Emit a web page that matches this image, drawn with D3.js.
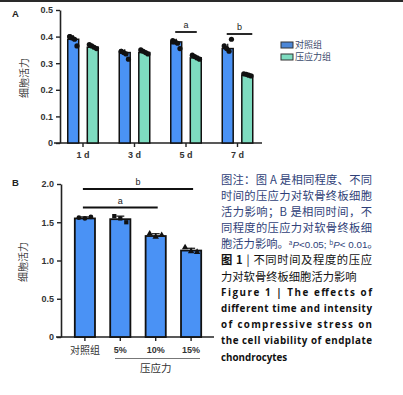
<!DOCTYPE html>
<html>
<head>
<meta charset="utf-8">
<script src="https://cdn.jsdelivr.net/npm/d3@7"></script>
<style>
  body { margin: 0; background: #fff; }
  svg { display: block; }
</style>
</head>
<body>
<div id="chart"></div>
<script>
// panel A data
const timeCats = ["1 d", "3 d", "5 d", "7 d"];
const seriesNames = ["对照组", "压应力组"];
const controlMean = [0.39, 0.34, 0.38, 0.355];
const stressMean = [0.36, 0.34, 0.32, 0.255];
const controlSd = [0.015, 0.012, 0.012, 0.018];
const stressSd = [0.008, 0.008, 0.008, 0.004];
const controlPts = [[0.40, 0.395, 0.39, 0.365, 0.40], [0.345, 0.34, 0.335, 0.315, 0.345], [0.385, 0.38, 0.375, 0.355, 0.38], [0.365, 0.355, 0.345, 0.39]];
const stressPts = [[0.37, 0.365, 0.36, 0.355], [0.35, 0.345, 0.34, 0.335], [0.33, 0.325, 0.32, 0.315], [0.26, 0.258, 0.255, 0.252]];
const yTicksA = [0, 0.1, 0.2, 0.3, 0.4, 0.5];
const sigA = [{cat: "5 d", label: "a"}, {cat: "7 d", label: "b"}];

// panel B data
const groupsB = ["对照组", "5%", "10%", "15%"];
const meanB = [1.55, 1.54, 1.32, 1.13];
const sdB = [0.02, 0.04, 0.03, 0.03];
const ptsB = [[1.56, 1.55, 1.57], [1.58, 1.55, 1.50], [1.35, 1.31, 1.33], [1.17, 1.12, 1.11]];
const yTicksB = [0, 0.5, 1.0, 1.5, 2.0];
const sigB = [{from: "对照组", to: "10%", label: "a"}, {from: "对照组", to: "15%", label: "b"}];

const blue = "#4a92f5", green = "#7edcc0";
const fontSans = "'Liberation Sans', Arial, sans-serif";
const fontCJK = "'Noto Sans CJK SC', sans-serif";

const svg = d3.select("#chart").append("svg")
  .attr("width", 403).attr("height", 395);

svg.append("rect").attr("width", 403).attr("height", 395).attr("fill", "#fff");
svg.append("rect").attr("x", 0).attr("y", 0).attr("width", 403).attr("height", 2).attr("fill", "#2a2a2a");

function styleAxis(g) {
  g.select(".domain").attr("stroke", "#222").attr("stroke-width", 1.6);
  g.selectAll(".tick line").attr("stroke", "#222").attr("stroke-width", 1.4);
  g.selectAll(".tick text").attr("fill", "#333").attr("font-family", fontSans)
    .attr("font-weight", "bold").attr("font-size", 9);
}

// ---------- Panel A ----------
const yA = d3.scaleLinear().domain([0, 0.5]).range([143, 10]);
const xA = d3.scaleBand().domain(timeCats).range([57.25, 263.25]).padding(0);
const x1 = d3.scaleBand().domain(seriesNames).range([-15.25, 15.25]).paddingInner(0.44);

const gA = svg.append("g");
gA.append("g").attr("transform", "translate(60,0)")
  .call(d3.axisLeft(yA).tickValues(yTicksA).tickFormat(d => d === 0 ? "0" : d3.format(".1f")(d)).tickSize(4).tickSizeOuter(0))
  .call(styleAxis);
gA.append("line").attr("x1", 54).attr("x2", 262).attr("y1", yA(0)).attr("y2", yA(0))
  .attr("stroke", "#222").attr("stroke-width", 1.6);
gA.append("g").attr("transform", `translate(0,${yA(0)})`)
  .call(d3.axisBottom(xA).tickSize(4).tickPadding(5))
  .call(g => g.select(".domain").remove())
  .call(styleAxis);

const rowsA = [];
timeCats.forEach((c, i) => {
  rowsA.push({cat: c, s: seriesNames[0], mean: controlMean[i], sd: controlSd[i], pts: controlPts[i], fill: blue});
  rowsA.push({cat: c, s: seriesNames[1], mean: stressMean[i], sd: stressSd[i], pts: stressPts[i], fill: green});
});
const barA = gA.selectAll(".barA").data(rowsA).enter().append("g")
  .attr("transform", d => `translate(${xA(d.cat) + xA.bandwidth() / 2 + x1(d.s)},0)`);
barA.append("rect")
  .attr("x", 0).attr("width", x1.bandwidth())
  .attr("y", d => yA(d.mean)).attr("height", d => yA(0) - yA(d.mean))
  .attr("fill", d => d.fill).attr("stroke", "#111").attr("stroke-width", 1.5);
barA.append("line")
  .attr("x1", x1.bandwidth() / 2).attr("x2", x1.bandwidth() / 2)
  .attr("y1", d => yA(d.mean + d.sd)).attr("y2", d => yA(d.mean))
  .attr("stroke", "#111").attr("stroke-width", 1.2);
barA.selectAll("circle").data(d => d.pts).enter().append("circle")
  .attr("cx", (p, j) => 2 + (j % 4) * 2.4)
  .attr("cy", p => yA(p))
  .attr("r", 2.6).attr("fill", "#111");

sigA.forEach((s, i) => {
  const cx = xA(s.cat) + xA.bandwidth() / 2;
  const x0 = cx + x1(seriesNames[0]) + x1.bandwidth() / 2 - 1;
  const xe = cx + x1(seriesNames[1]) + x1.bandwidth() / 2 + (i === 1 ? 5 : 1);
  const yy = i === 0 ? 32 : 34;
  gA.append("line").attr("x1", x0).attr("x2", xe).attr("y1", yy).attr("y2", yy)
    .attr("stroke", "#111").attr("stroke-width", 1.8);
  gA.append("text").attr("x", (x0 + xe) / 2).attr("y", yy - 4)
    .attr("text-anchor", "middle").attr("font-family", fontSans).attr("font-size", 9)
    .attr("fill", "#222").text(s.label);
});

gA.append("text").attr("transform", "translate(28,78) rotate(-90)")
  .attr("text-anchor", "middle").attr("font-family", fontCJK).attr("font-size", 10)
  .attr("fill", "#444").text("细胞活力");
gA.append("text").attr("x", 12).attr("y", 17).attr("font-family", fontSans)
  .attr("font-weight", "bold").attr("font-size", 9.5).attr("fill", "#222").text("A");

// legend
const leg = gA.selectAll(".leg").data(seriesNames).enter().append("g")
  .attr("transform", (d, i) => `translate(281,${42 + i * 12})`);
leg.append("rect").attr("width", 12).attr("height", 6)
  .attr("fill", (d, i) => i === 0 ? "#4d87d6" : green).attr("stroke", "#333").attr("stroke-width", 1);
leg.append("text").attr("x", 14).attr("y", 3).attr("dy", "0.35em")
  .attr("font-family", fontCJK).attr("font-size", 9).attr("fill", "#3b4a6b").text(d => d);

// ---------- Panel B ----------
const yB = d3.scaleLinear().domain([0, 2]).range([337, 184]);
const xB = d3.scaleBand().domain(groupsB).range([61, 215]).paddingInner(0.43).paddingOuter(0.39);

const gB = svg.append("g");
gB.append("g").attr("transform", "translate(61,0)")
  .call(d3.axisLeft(yB).tickValues(yTicksB).tickFormat(d => d === 0 ? "0" : d3.format(".1f")(d)).tickSize(4).tickSizeOuter(0))
  .call(styleAxis);
gB.append("line").attr("x1", 56).attr("x2", 214).attr("y1", yB(0)).attr("y2", yB(0))
  .attr("stroke", "#222").attr("stroke-width", 1.6);
gB.append("g").attr("transform", `translate(0,${yB(0)})`)
  .call(d3.axisBottom(xB).tickSize(4).tickPadding(6))
  .call(g => g.select(".domain").remove())
  .call(styleAxis)
  .call(g => g.selectAll(".tick text")
    .attr("font-family", d => d === "对照组" ? fontCJK : fontSans)
    .attr("font-weight", d => d === "对照组" ? "normal" : "bold")
    .attr("font-size", d => d === "对照组" ? 10 : 9));

const symbolsB = [d3.symbolCircle, d3.symbolSquare, d3.symbolTriangle, d3.symbolTriangle];
const rowsB = groupsB.map((g, i) => ({g, mean: meanB[i], sd: sdB[i], pts: ptsB[i], sym: symbolsB[i]}));
const barB = gB.selectAll(".barB").data(rowsB).enter().append("g")
  .attr("transform", d => `translate(${xB(d.g)},0)`);
barB.append("rect")
  .attr("x", 0).attr("width", xB.bandwidth())
  .attr("y", d => yB(d.mean)).attr("height", d => yB(0) - yB(d.mean))
  .attr("fill", blue).attr("stroke", "#111").attr("stroke-width", 1.8);
barB.append("line")
  .attr("x1", xB.bandwidth() / 2).attr("x2", xB.bandwidth() / 2)
  .attr("y1", d => yB(d.mean + d.sd)).attr("y2", d => yB(d.mean))
  .attr("stroke", "#111").attr("stroke-width", 1.2);
barB.append("line")
  .attr("x1", xB.bandwidth() / 2 - 4).attr("x2", xB.bandwidth() / 2 + 4)
  .attr("y1", d => yB(d.mean + d.sd)).attr("y2", d => yB(d.mean + d.sd))
  .attr("stroke", "#111").attr("stroke-width", 1.2);
barB.each(function(d) {
  d3.select(this).selectAll("path.pt").data(d.pts).enter().append("path")
    .attr("class", "pt")
    .attr("transform", (p, j) => `translate(${xB.bandwidth() / 2 + (j - 1) * 6},${yB(p)})`)
    .attr("d", d3.symbol().type(d.sym).size(18))
    .attr("fill", "#111");
});

sigB.forEach((s, i) => {
  const x0 = xB(s.from) + xB.bandwidth() / 2 - 2;
  const xe = xB(s.to) + xB.bandwidth() / 2 + 2;
  const yy = i === 0 ? 207.5 : 189;
  gB.append("line").attr("x1", x0).attr("x2", xe).attr("y1", yy).attr("y2", yy)
    .attr("stroke", "#111").attr("stroke-width", 1.8);
  gB.append("text").attr("x", (x0 + xe) / 2).attr("y", yy - 4)
    .attr("text-anchor", "middle").attr("font-family", fontSans).attr("font-size", 9)
    .attr("fill", "#222").text(s.label);
});

// group bracket under stress levels
gB.append("line").attr("x1", 115).attr("x2", 200).attr("y1", 358.5).attr("y2", 358.5)
  .attr("stroke", "#777").attr("stroke-width", 1.2);
gB.append("text").attr("x", (xB("5%") + xB("15%") + xB.bandwidth()) / 2).attr("y", 368).attr("dy", "0.35em")
  .attr("text-anchor", "middle").attr("font-family", fontCJK).attr("font-size", 10.5)
  .attr("fill", "#333").text("压应力");

gB.append("text").attr("transform", "translate(27,262) rotate(-90)")
  .attr("text-anchor", "middle").attr("font-family", fontCJK).attr("font-size", 10)
  .attr("fill", "#444").text("细胞活力");
gB.append("text").attr("x", 12).attr("y", 186).attr("font-family", fontSans)
  .attr("font-weight", "bold").attr("font-size", 9.5).attr("fill", "#222").text("B");

// ---------- caption ----------
const capNote = ["图注：图 A 是相同程度、不同", "时间的压应力对软骨终板细胞", "活力影响；B 是相同时间，不", "同程度的压应力对软骨终板细"];
const capTitle = ["力对软骨终板细胞活力影响"];
const capEn = ["Figure 1  |  The effects of", "different time and intensity", "of compressive stress on", "the cell viability of endplate", "chondrocytes"];
const capX = 221, capW = 151, lh = 16.1, capY0 = 180;
const noteColor = "#2f3f78";

const cap = svg.append("g");
capNote.forEach((t, i) => {
  cap.append("text").attr("x", capX).attr("y", capY0 + i * lh).attr("dy", "0.35em")
    .attr("font-family", fontCJK).attr("font-size", 11.3).attr("fill", noteColor)
    .attr("textLength", capW).attr("lengthAdjust", "spacing").text(t);
});
const l5 = cap.append("text").attr("x", capX).attr("y", capY0 + 4 * lh).attr("dy", 4)
  .attr("font-family", fontCJK).attr("font-size", 11.3).attr("fill", noteColor);
l5.append("tspan").text("胞活力影响。");
l5.append("tspan").attr("font-size", 6.5).attr("dy", -3).text("a");
l5.append("tspan").attr("font-style", "italic").attr("font-family", fontSans).attr("font-size", 9.8).attr("dy", 3).text("P");
l5.append("tspan").attr("font-family", fontSans).attr("font-size", 9.8).text("<0.05; ");
l5.append("tspan").attr("font-size", 6.5).attr("dy", -3).text("b");
l5.append("tspan").attr("font-style", "italic").attr("font-family", fontSans).attr("font-size", 9.8).attr("dy", 3).text("P");
l5.append("tspan").attr("font-family", fontSans).attr("font-size", 9.8).text("< 0.01");
l5.append("tspan").text("。");

const l6 = cap.append("text").attr("x", capX).attr("y", capY0 + 5 * lh).attr("dy", "0.35em")
  .attr("font-family", fontCJK).attr("font-size", 11.3).attr("fill", "#111")
  .attr("textLength", capW).attr("lengthAdjust", "spacing");
l6.append("tspan").attr("font-weight", "bold").text("图 1 ");
l6.append("tspan").text(" | 不同时间及程度的压应");
capTitle.forEach((t, i) => {
  cap.append("text").attr("x", capX).attr("y", capY0 + (6 + i) * lh).attr("dy", "0.35em")
    .attr("font-family", fontCJK).attr("font-size", 11.3).attr("fill", "#111").text(t);
});
capEn.forEach((t, i) => {
  const tx = cap.append("text").attr("x", capX).attr("y", capY0 + (7 + i) * lh).attr("dy", "0.35em")
    .attr("font-family", "'Open Sans', sans-serif").attr("font-weight", "bold").attr("font-size", 9.8)
    .attr("fill", "#111").text(t);
  if (i < capEn.length - 1) tx.attr("textLength", capW).attr("lengthAdjust", "spacing");
});
</script>
</body>
</html>
